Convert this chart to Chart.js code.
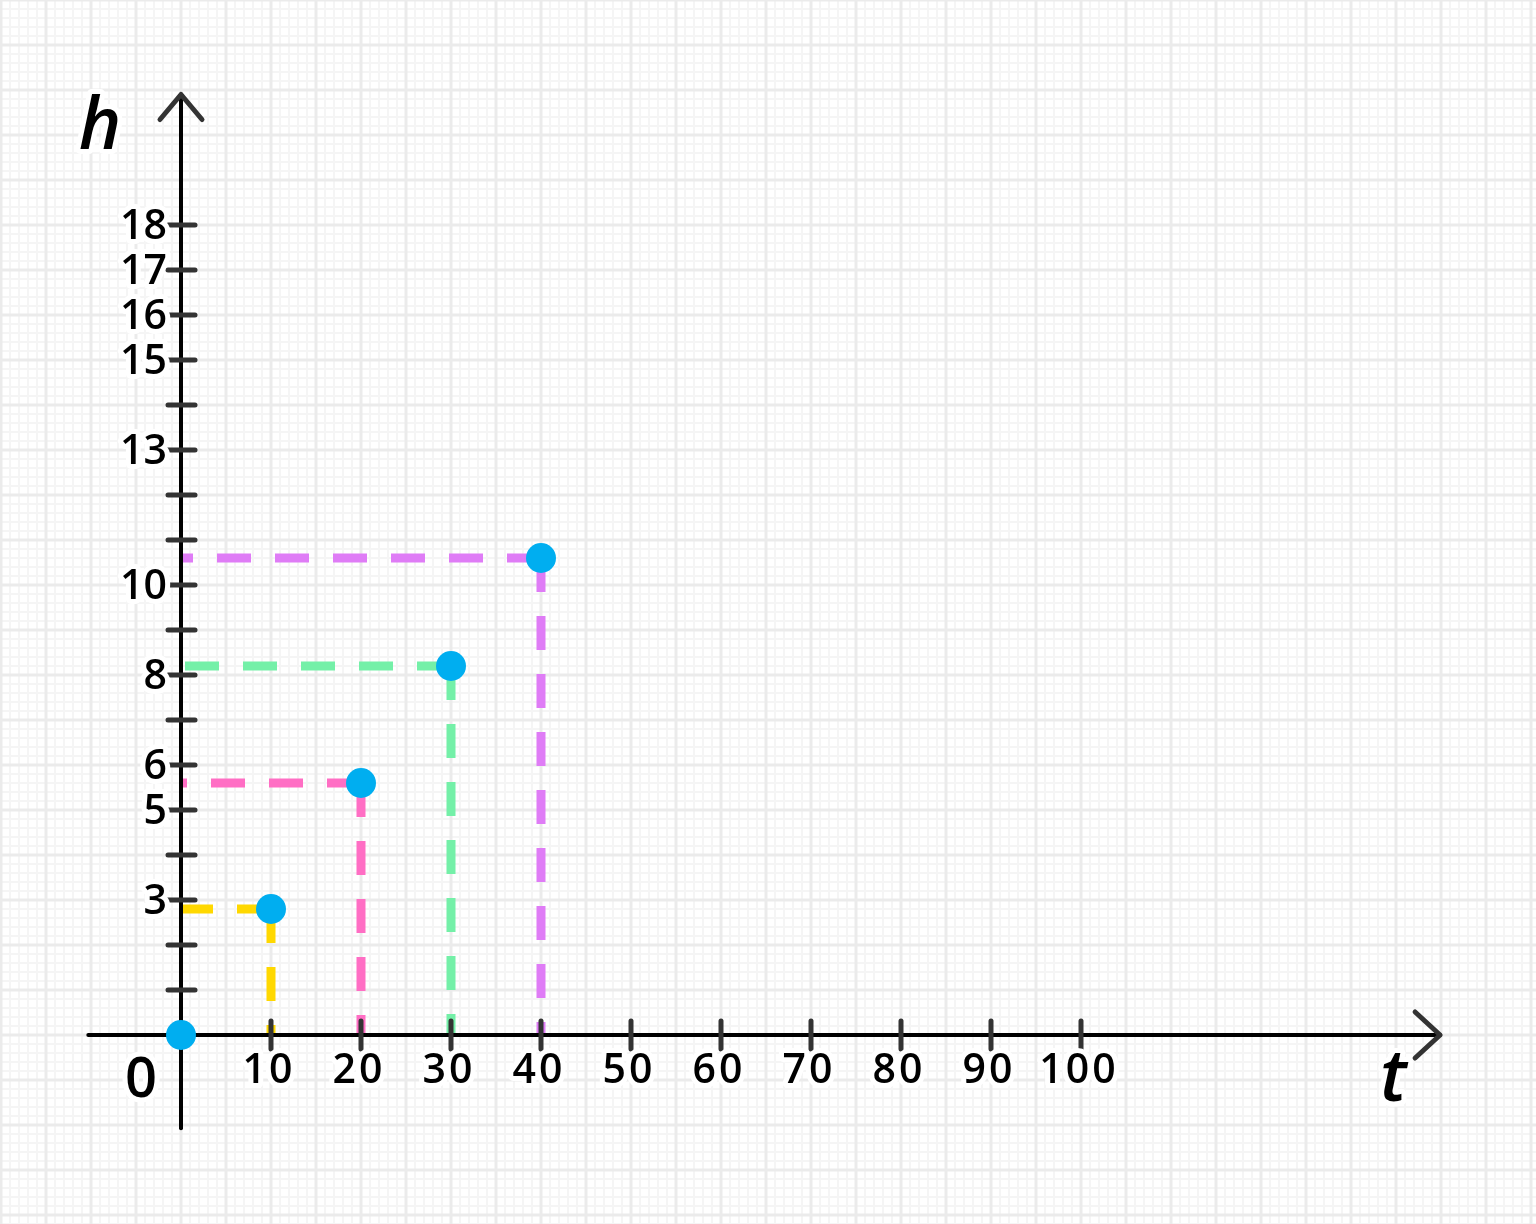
<!DOCTYPE html>
<html>
<head>
<meta charset="utf-8">
<script src="https://cdn.jsdelivr.net/npm/chart.js@4/dist/chart.umd.min.js"></script>
<style>
  html, body { margin: 0; padding: 0; background: #fff; }
  #wrap { width: 1536px; height: 1224px; }
</style>
</head>
<body>
<div id="wrap"><canvas id="chart" width="1536" height="1224"></canvas></div>
<script>
// values
const tValues = [0, 10, 20, 30, 40];
const hValues = [0, 2.8, 5.6, 8.2, 10.6];
const guideColors = ["#ffd800", "#ff6ec4", "#74f0a8", "#df7cf6"];
const xTicks = [10, 20, 30, 40, 50, 60, 70, 80, 90, 100];
const yTicks = [1, 2, 3, 4, 5, 6, 7, 8, 9, 10, 11, 12, 13, 14, 15, 16, 17, 18];
const yTickLabels = [3, 5, 6, 8, 10, 13, 15, 16, 17, 18];

const FONT = "'Open Sans', 'Liberation Sans', sans-serif";

// dashed guides: horizontal and vertical from each point (dash starts at the point)
const guideSets = [];
for (let i = 1; i < tValues.length; i++) {
  const p = { x: tValues[i], y: hValues[i] };
  const common = {
    type: "line",
    borderColor: guideColors[i - 1],
    borderWidth: 9,
    borderDash: [34, 24],
    borderCapStyle: "butt",
    pointRadius: 0,
    fill: false,
  };
  guideSets.push({ ...common, data: [p, { x: 0, y: p.y }] });
  guideSets.push({ ...common, data: [p, { x: p.x, y: 0 }] });
}

const pointSet = {
  type: "scatter",
  data: tValues.map((t, i) => ({ x: t, y: hValues[i] })),
  backgroundColor: "#00aef0",
  borderColor: "#00aef0",
  borderWidth: 0,
  pointRadius: 15,
  pointHoverRadius: 15,
};

const gridPlugin = {
  id: "paper",
  beforeDraw(chart) {
    const { ctx, scales: { x, y } } = chart;
    ctx.save();
    ctx.fillStyle = "#fff";
    ctx.fillRect(0, 0, chart.width, chart.height);
    const line = (x1, y1, x2, y2) => { ctx.beginPath(); ctx.moveTo(x1, y1); ctx.lineTo(x2, y2); ctx.stroke(); };
    // minor grid
    ctx.strokeStyle = "#f5f5f5";
    ctx.lineWidth = 2;
    for (let v = Math.ceil(x.min); v <= x.max; v++) {
      if (v % 5 === 0) continue;
      const px = x.getPixelForValue(v);
      line(px, 0, px, chart.height);
    }
    for (let k = Math.ceil(y.min * 5); k <= y.max * 5; k++) {
      if (k % 5 === 0) continue;
      const py = y.getPixelForValue(k / 5);
      line(0, py, chart.width, py);
    }
    // major grid
    ctx.strokeStyle = "#ebebeb";
    ctx.lineWidth = 3;
    for (let v = Math.ceil(x.min / 5) * 5; v <= x.max; v += 5) {
      const px = x.getPixelForValue(v);
      line(px, 0, px, chart.height);
    }
    for (let v = Math.ceil(y.min); v <= y.max; v++) {
      const py = y.getPixelForValue(v);
      line(0, py, chart.width, py);
    }
    ctx.restore();
  },
  beforeDatasetDraw(chart, args) {
    if (args.index !== 0) return;
    const { ctx, scales: { x, y } } = chart;
    const x0 = x.getPixelForValue(0), y0 = y.getPixelForValue(0);
    const line = (x1, y1, x2, y2) => { ctx.beginPath(); ctx.moveTo(x1, y1); ctx.lineTo(x2, y2); ctx.stroke(); };
    ctx.save();
    // axes
    ctx.strokeStyle = "#000";
    ctx.lineWidth = 4;
    ctx.lineCap = "round";
    const xStart = x.getPixelForValue(-10.3), xEnd = x.getPixelForValue(139.9);
    const yStart = y.getPixelForValue(-2.07), yEnd = y.getPixelForValue(20.9);
    line(xStart, y0, xEnd, y0);
    line(x0, yStart, x0, yEnd);
    // arrow heads
    ctx.strokeStyle = "#333";
    ctx.lineWidth = 5;
    ctx.lineJoin = "round";
    ctx.beginPath();
    ctx.moveTo(xEnd - 25, y0 - 23); ctx.lineTo(xEnd, y0); ctx.lineTo(xEnd - 25, y0 + 23);
    ctx.stroke();
    ctx.beginPath();
    ctx.moveTo(x0 - 21, yEnd + 25); ctx.lineTo(x0, yEnd); ctx.lineTo(x0 + 21, yEnd + 25);
    ctx.stroke();
    // tick marks
    ctx.lineWidth = 5;
    xTicks.forEach(v => { const px = x.getPixelForValue(v); line(px, y0 - 14, px, y0 + 14); });
    yTicks.forEach(v => { const py = y.getPixelForValue(v); line(x0 - 13, py, x0 + 14, py); });
    ctx.restore();
  },
  afterDraw(chart) {
    const { ctx, scales: { x, y } } = chart;
    const x0 = x.getPixelForValue(0), y0 = y.getPixelForValue(0);
    const halo = (text, px, py) => {
      ctx.strokeStyle = "#fff";
      ctx.lineWidth = 10;
      ctx.lineJoin = "round";
      ctx.strokeText(text, px, py);
      ctx.fillStyle = "#000";
      ctx.fillText(text, px, py);
    };
    ctx.save();
    ctx.textBaseline = "middle";
    ctx.font = "600 41px " + FONT;
    ctx.textAlign = "right";
    yTickLabels.forEach(v => halo(String(v), x0 - 14, y.getPixelForValue(v) + 2));
    ctx.textAlign = "center";
    ctx.font = "600 41px " + FONT;
    ctx.letterSpacing = "3px";
    xTicks.forEach(v => halo(String(v), x.getPixelForValue(v) - 2, y0 + 36));
    ctx.letterSpacing = "0px";
    ctx.font = "600 56px " + FONT;
    halo("0", x0 - 40, y0 + 46);
    ctx.font = "italic 600 72px " + FONT;
    halo("h", x0 - 81, y.getPixelForValue(20.15));
    halo("t", x.getPixelForValue(134.7), y0 + 45);
    ctx.restore();
  }
};

new Chart(document.getElementById("chart").getContext("2d"), {
  data: { datasets: [pointSet, ...guideSets] },
  options: {
    responsive: false,
    animation: false,
    layout: { padding: 0, autoPadding: false },
    plugins: { legend: { display: false }, tooltip: { enabled: false } },
    scales: {
      x: { type: "linear", display: false, min: -181 / 9, max: (1536 - 181) / 9 },
      y: { type: "linear", display: false, min: -189 / 45, max: 1035 / 45 },
    },
  },
  plugins: [gridPlugin],
});
</script>
</body>
</html>
